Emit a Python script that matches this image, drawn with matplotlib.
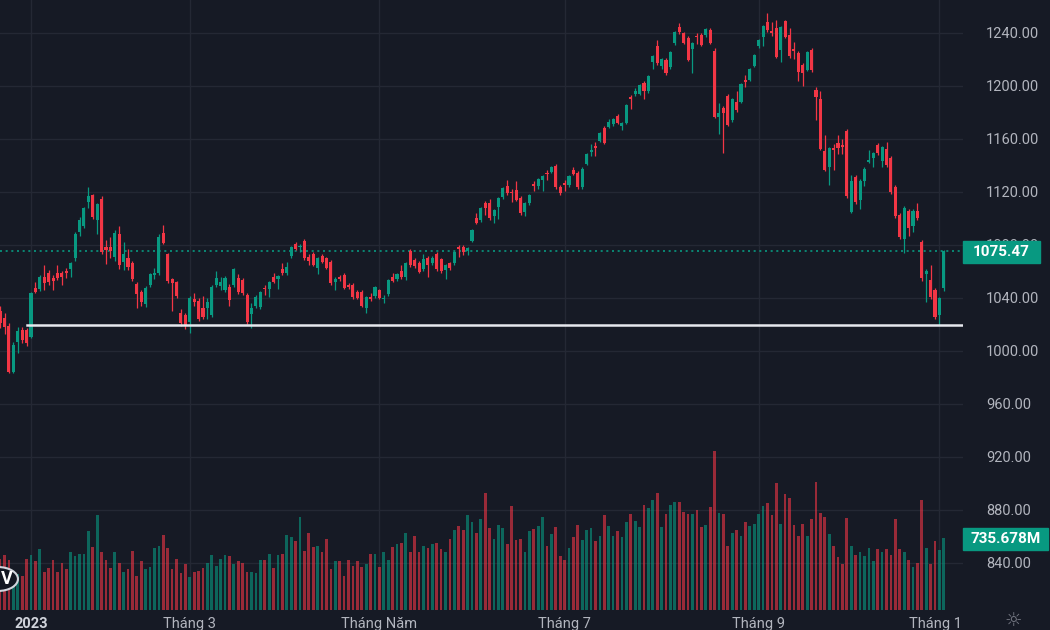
import numpy as np
import matplotlib.pyplot as plt
from matplotlib.patches import Rectangle, Circle

plt.rcParams['font.family'] = ['Roboto', 'DejaVu Sans']

# nen ngay: cuoi 12/2022 -> dau 11/2023 (phien dau tien la index -7)
opens = [1030, 1025, 1019, 984.5, 1007, 1016, 1016,
         1010.5, 1047.7, 1046.8, 1055.9, 1059, 1055, 1058.9, 1058.9, 1060.4, 1061.9,
         1070, 1089.8, 1094.4, 1112.4, 1117.7, 1098.9, 1114.7, 1078.5, 1078.5, 1071,
         1088.3, 1067, 1070, 1066.4, 1050.6, 1044.5, 1035.5, 1049.8, 1057.4, 1058.9,
         1089, 1073.2, 1054, 1052, 1028.7, 1027, 1021.8, 1039, 1038, 1032.5,
         1032.5, 1027, 1049.8, 1049, 1046, 1048.3, 1049.8, 1055, 1053.6, 1042.2,
         1027.9, 1034, 1033, 1047, 1046.8, 1055.9, 1054.3, 1061.9, 1058.9, 1071.7,
         1080.7, 1078.5, 1083, 1071, 1073, 1062.6, 1071.5, 1070, 1067.2, 1052,
         1055.9, 1057.4, 1049.8, 1049.8, 1044.5, 1044.5, 1032.5, 1040.8, 1041.5, 1046,
         1039.2, 1043, 1055.9, 1054.3, 1060.4, 1055.9, 1075.5, 1068.7, 1066.4, 1061.9,
         1070.2, 1066.4, 1073.2, 1069.4, 1061.1, 1066.4, 1066.4, 1078.5, 1078.5, 1075.5,
         1083, 1100.4, 1098.9, 1111.7, 1111.7, 1101.9, 1108.7, 1116.2, 1124.5, 1120,
         1121.5, 1115.5, 1105, 1111.7, 1126, 1124.5, 1129.1, 1134.4, 1135.1, 1139.6,
         1123.8, 1126.8, 1125.3, 1136.6, 1134.4, 1123.8, 1141.1, 1150.2, 1154.7, 1158.5,
         1168.3, 1169, 1171.3, 1177.4, 1170, 1172, 1191.7, 1194, 1194, 1202.3,
         1196.4, 1218, 1230.2, 1215, 1219.6, 1214.3, 1232.5, 1244.5, 1240, 1236.2,
         1228, 1237.7, 1238.5, 1238.5, 1242.3, 1226.4, 1176.6, 1183.4, 1192.5, 1174.3,
         1188, 1188, 1204.5, 1204.5, 1215, 1230.2, 1237, 1248.3, 1241.5, 1243.8,
         1227.2, 1249, 1238.5, 1228, 1225, 1215.8, 1212, 1227, 1197, 1190,
         1151, 1139, 1153.2, 1157, 1155.5, 1166, 1105, 1131.4, 1114, 1128.4,
         1143, 1145.7, 1155.5, 1143.4, 1152.5, 1145.7, 1123.8, 1102.6, 1084.5, 1105.7,
         1094.4, 1105.7, 1082.2, 1058, 1053.6, 1046, 1027, 1047.6]
highs = [1034, 1029, 1021, 1007, 1018, 1018, 1017,
         1044.5, 1052, 1057, 1065, 1061, 1057, 1065, 1060, 1063, 1067,
         1089.5, 1101, 1108.5, 1123.8, 1118.5, 1112, 1117, 1084, 1086, 1091,
         1094, 1082, 1077, 1068, 1052, 1046, 1049, 1059, 1063, 1088.5,
         1095, 1074, 1055, 1053, 1032, 1029, 1041.5, 1044, 1040, 1041.5,
         1040, 1049.5, 1060, 1056, 1056.5, 1050.5, 1063, 1058, 1055, 1043.5,
         1036, 1042, 1045.5, 1050, 1053, 1059, 1057.5, 1066.5, 1067, 1079.5,
         1082.5, 1080.5, 1084.5, 1073.5, 1074.5, 1071, 1073, 1071, 1068.5, 1056,
         1057, 1058.5, 1051, 1051, 1046, 1046, 1041.5, 1043.5, 1049, 1047,
         1042.5, 1054.5, 1059, 1059, 1065, 1067.5, 1077, 1070, 1068, 1073,
         1071.5, 1071.5, 1074.5, 1070.5, 1066, 1067.5, 1075.5, 1080, 1080, 1078.5,
         1092, 1104.5, 1109, 1113, 1115, 1107.5, 1116.5, 1124, 1129, 1122.5,
         1128.5, 1117, 1112.5, 1118.5, 1128, 1130.5, 1133, 1136.5, 1139.5, 1141,
         1125, 1129, 1133, 1139, 1135.5, 1138.5, 1149.5, 1156, 1158, 1165.5,
         1169.5, 1175, 1176, 1179, 1173, 1186.5, 1193, 1198.5, 1201.5, 1203.5,
         1208.5, 1223.5, 1235, 1221, 1221, 1226.5, 1241.5, 1247.5, 1241, 1238,
         1233.5, 1240, 1240, 1244, 1244, 1228.5, 1187, 1185, 1194, 1191,
         1196, 1202.5, 1208, 1213.5, 1224, 1235.5, 1246, 1255, 1248, 1249.5,
         1245.5, 1250, 1244, 1233.5, 1226.5, 1217, 1226.5, 1228.5, 1199, 1196,
         1163, 1154, 1156, 1163, 1160, 1167.5, 1133, 1133, 1129.5, 1138.5,
         1152, 1150, 1157, 1155, 1158, 1147, 1125, 1104, 1109.5, 1107,
         1107, 1112, 1083.5, 1062, 1065, 1047.5, 1041, 1076.5]
lows = [1017, 1013, 983, 983, 998.5, 1006, 1004,
        1009.5, 1043.5, 1045.5, 1046, 1050, 1046, 1053.5, 1050, 1055, 1056,
        1068, 1087, 1093, 1108, 1099.5, 1088.5, 1073.5, 1066, 1070, 1068,
        1062, 1061, 1061, 1053, 1032.5, 1034, 1033, 1048.5, 1054, 1057.5,
        1080.5, 1051.5, 1030, 1040, 1019, 1016.5, 1013.6, 1034, 1022.5, 1024.5,
        1024.5, 1025.5, 1048.5, 1046, 1044.5, 1034, 1048.5, 1043, 1042.5, 1020.5,
        1017, 1032.5, 1031.5, 1042, 1041, 1051, 1047, 1057.5, 1057.5, 1070.5,
        1076, 1075, 1069, 1065, 1064, 1058, 1066.5, 1061.5, 1050, 1046,
        1053, 1046.5, 1046.5, 1039.5, 1039, 1033, 1029, 1037.5, 1040, 1039,
        1036.5, 1041.5, 1052, 1053, 1054.5, 1053.5, 1063.5, 1062.5, 1058.5, 1060.5,
        1056, 1065, 1060.5, 1059, 1054.5, 1061, 1065, 1071, 1072.5, 1072.5,
        1082, 1095.5, 1097.5, 1103, 1099, 1096.5, 1099.5, 1115, 1118, 1112.5,
        1113, 1103, 1101.5, 1110, 1120.5, 1122.5, 1121, 1129, 1134, 1122.5,
        1118, 1121, 1124, 1133, 1122.5, 1122.5, 1140, 1147, 1147, 1157.5,
        1156, 1168, 1170, 1171, 1166.5, 1171, 1183, 1192.5, 1193, 1190.5,
        1195, 1213, 1216, 1212.5, 1208.5, 1213, 1231, 1239.5, 1231.5, 1218.5,
        1210, 1231.5, 1230, 1237, 1231.5, 1175.5, 1164, 1149.4, 1169.5, 1173,
        1180.5, 1187, 1199, 1203.5, 1214, 1229, 1230, 1241, 1238, 1221,
        1218, 1236, 1221.5, 1220.5, 1204, 1200, 1211, 1210.5, 1174, 1151.5,
        1135.5, 1125, 1136.5, 1149, 1149, 1115.5, 1104, 1111, 1107, 1124.5,
        1141.5, 1138.5, 1148, 1139, 1139, 1118.5, 1100.5, 1084.5, 1074, 1087,
        1089.5, 1099, 1053, 1037, 1039, 1024, 1019.6, 1045]
closes = [1021, 1018, 984, 1004.6, 1015, 1008.3, 1006,
          1043.8, 1044.6, 1055.9, 1051.3, 1052, 1052.8, 1055.1, 1055.9, 1058.9, 1066.4,
          1088.3, 1098.9, 1108, 1117, 1101.1, 1110.9, 1075, 1076.2, 1075.5, 1089,
          1065, 1073, 1063.4, 1054.3, 1043, 1037, 1047.6, 1058.1, 1058.9, 1086,
          1081.5, 1052.8, 1051, 1041.5, 1021, 1019.5, 1040, 1037, 1024, 1025.7,
          1037, 1048.3, 1055, 1052, 1055, 1038.5, 1062, 1044.5, 1043.8, 1021.8,
          1032.5, 1040.7, 1044.5, 1046.5, 1052, 1052, 1056.6, 1058.9, 1063.4, 1078.5,
          1077, 1079.5, 1070.2, 1068, 1065, 1070, 1067.5, 1062.6, 1051.3, 1054,
          1054.3, 1047.5, 1048.3, 1040.8, 1040, 1034, 1040.8, 1039.2, 1048.3, 1040,
          1040, 1053.6, 1053, 1058.1, 1055.9, 1066.4, 1065, 1064, 1059.6, 1069.4,
          1065, 1070.2, 1061.9, 1060.4, 1064.9, 1062.6, 1074.7, 1077, 1074.7, 1077.7,
          1091.3, 1096.6, 1108, 1108, 1100.4, 1106.4, 1115.5, 1123, 1119.2, 1119.2,
          1114, 1104, 1111.7, 1117.7, 1124.5, 1129.8, 1132.1, 1133.6, 1138.9, 1123.8,
          1119.2, 1125, 1132.1, 1133.6, 1123.8, 1137.4, 1148.7, 1151.7, 1153.2, 1164.5,
          1157, 1172.8, 1175, 1172, 1172, 1185.7, 1190.2, 1196.4, 1200.8, 1196,
          1207.6, 1222.7, 1217.4, 1220.4, 1209.8, 1225.7, 1240.8, 1240.8, 1232.5, 1219.6,
          1232.5, 1237, 1231, 1243, 1232.5, 1176.6, 1179.6, 1179.6, 1170.6, 1190.2,
          1181.9, 1201.5, 1203, 1212.8, 1223.4, 1234.7, 1245.3, 1242.3, 1240, 1221.9,
          1244.5, 1237, 1222.6, 1226.4, 1210.6, 1209.8, 1225.7, 1212, 1191.7, 1152.5,
          1136.6, 1153.2, 1151.7, 1153.2, 1154, 1117, 1128.4, 1112.4, 1128.4, 1137.4,
          1144, 1149.4, 1149.4, 1154, 1140.4, 1120, 1102, 1086, 1108, 1092.8,
          1105.7, 1100.4, 1055, 1060.4, 1040.8, 1025.7, 1040, 1075.47]
# khoi luong (trieu cp)
volumes = [520, 569, 512, 399, 371, 346, 526, 569, 498, 622,
           389, 431, 512, 389, 480, 417, 594, 555, 579, 579,
           806, 650, 972, 594, 512, 431, 594, 480, 389, 417,
           608, 346, 498, 417, 442, 636, 661, 774, 636, 417,
           526, 375, 470, 336, 389, 399, 431, 480, 565, 456,
           526, 565, 555, 470, 498, 480, 389, 389, 375, 512,
           512, 579, 431, 565, 579, 774, 745, 707, 957, 608,
           788, 650, 661, 594, 724, 417, 498, 498, 346, 512,
           456, 498, 442, 470, 579, 579, 442, 594, 512, 650,
           675, 689, 788, 594, 760, 594, 661, 636, 675, 689,
           622, 594, 731, 816, 859, 816, 972, 901, 788, 929,
           1205, 841, 731, 869, 841, 675, 1063, 717,
           724, 594, 806, 834, 859, 957, 654, 777, 848, 555,
           516, 639, 749, 873, 721, 816, 844, 707, 760, 972,
           862, 760, 806, 749, 901, 982, 915, 848, 1081, 1042,
           1124, 1205, 848, 982, 1081, 1109, 1109, 1010, 982, 982,
           1025, 848, 873, 1053, 1636, 1000, 982, 654, 788, 820,
           760, 901, 859, 887, 982, 1067, 1095, 972, 1304, 887,
           1191, 1152, 873, 760, 887, 760, 929, 1318, 1000, 957,
           777, 654, 541, 470, 940, 654, 569, 597, 555, 639,
           498, 625, 597, 625, 569, 929, 625, 597, 516, 442,
           484, 1124, 639, 470, 707, 611, 735.678]

x_labels = ['2023', 'Tháng 3', 'Tháng Năm', 'Tháng 7', 'Tháng 9', 'Tháng 1']
x_label_pos = [0, 36, 79, 121, 165, 205]
x_grid_pos = [0, 36, 79, 121, 165, 206]
price_ticks = [840, 880, 920, 960, 1000, 1040, 1080, 1120, 1160, 1200, 1240]
support = 1019.6
last_close = 1075.47
last_vol = 735.678

bg = '#161a25'
grid_c = '#242834'
up = '#089981'
down = '#f23645'
txt_c = '#b2b5be'

o = np.array(opens); h = np.array(highs); l = np.array(lows); c = np.array(closes)
v = np.array(volumes)
idx = np.arange(len(c)) - 7
rising = c >= o
cols = np.where(rising, up, down)

fig = plt.figure(figsize=(10.5, 6.3), dpi=100, facecolor=bg)
ax = fig.add_axes([0, 20/630, 963/1050, 610/630])
ax.set_facecolor(bg)
ax.set_xlim(-7.03, 211.34)
ax.set_ylim(804.5, 1264.9)

# volume o truc phu (tao truoc khi dat tick ben phai)
ax2 = ax.twinx()
ax2.set_ylim(0, last_vol * 610 / 71.7)
ax2.bar(idx, v, width=0.62, color=cols, alpha=0.6, linewidth=0)
ax2.set_yticks([])
for s in ax2.spines.values():
    s.set_visible(False)

for p in price_ticks:
    ax.axhline(p, color=grid_c, lw=1, zorder=0)
for g in x_grid_pos:
    ax.axvline(g, color=grid_c, lw=1, zorder=0)

# candles
ax.vlines(idx, l, h, colors=cols, lw=0.9, zorder=3)
body = np.maximum(np.abs(c - o), 0.7)
ax.bar(idx, body, bottom=np.minimum(o, c), width=0.7, color=cols, zorder=4, linewidth=0)

ax.axhline(last_close, color=up, lw=1.2, ls=(0, (1.2, 2.2)), zorder=2)
ax.plot([-0.9, 211.34], [support, support], color='#e6e8ee', lw=1.8, zorder=5)

ax.yaxis.tick_right()
ax.set_yticks(price_ticks)
ax.set_yticklabels([f'{p:.2f}' for p in price_ticks])
ax.tick_params(axis='y', which='both', left=False, right=False, labelleft=False,
               labelright=True, pad=13, labelsize=10.5, labelcolor=txt_c)
ax.set_xticks(x_label_pos)
ax.set_xticklabels(x_labels)
ax.tick_params(axis='x', length=0, pad=5, labelsize=10.5, labelcolor=txt_c)
ax.get_xticklabels()[0].set_fontweight('bold')
ax.get_xticklabels()[0].set_color('#d1d4dc')
for s in ax.spines.values():
    s.set_visible(False)

# nhan gia cuoi / khoi luong cuoi
fig.add_artist(Rectangle((963/1050, (630-263)/630), 77/1050, 22/630,
                         transform=fig.transFigure, color=up, zorder=10))
fig.text(1001.5/1050, (630-252)/630, f'{last_close:.2f}', color='white', fontsize=11,
         ha='center', va='center', fontweight='bold', zorder=11)
fig.add_artist(Rectangle((963/1050, (630-550)/630), 85/1050, 22/630,
                         transform=fig.transFigure, color=up, zorder=10))
fig.text(1005.5/1050, (630-539)/630, f'{last_vol:.3f}M', color='white', fontsize=11,
         ha='center', va='center', fontweight='bold', zorder=11)

# logo + icon
fig.add_artist(Circle((-2/1050, (630-579)/630), 0.019, transform=fig.transFigure,
                      facecolor='#131722', edgecolor='#d1d4dc', lw=1.5, zorder=9))
fig.text(1/1050, (630-579)/630, 'V', color='white', fontsize=13, fontweight='bold',
         ha='left', va='center', zorder=10)
fig.text(1013/1050, (630-620)/630, '☼', color='#787b86', fontsize=14,
         ha='center', va='center', family='DejaVu Sans')

fig.savefig('out.png', dpi=100, facecolor=bg)
